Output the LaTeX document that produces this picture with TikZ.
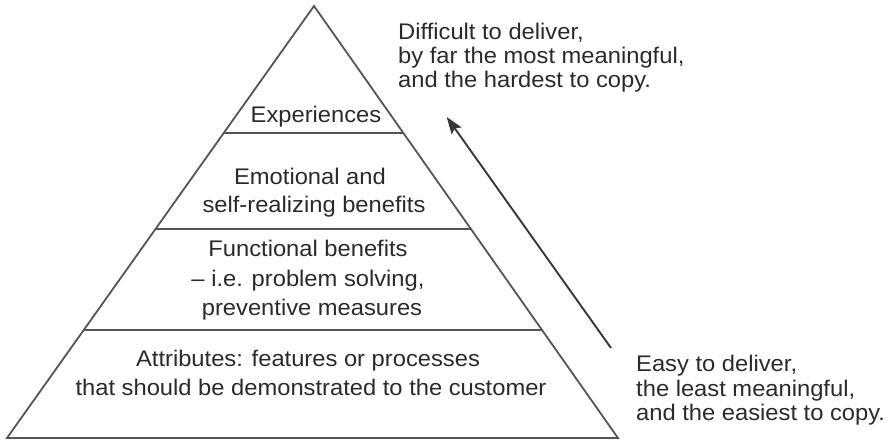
\documentclass[tikz,border=0pt]{standalone}
\usepackage{fontspec}
\setmainfont{Liberation Sans}[FakeStretch=1.05]
\usetikzlibrary{arrows.meta,calc}
\definecolor{txtgray}{HTML}{2A2A2A}
\definecolor{linegray}{HTML}{555555}
\definecolor{arrgray}{HTML}{383838}
\begin{document}
\begin{tikzpicture}[x=1pt,y=-1pt,
  lbl/.style={font=\fontsize{22.6}{26}\selectfont, text=txtgray, inner sep=0pt, anchor=base},
  lblL/.style={lbl, anchor=base west},
  side/.style={draw=linegray, line width=1.8pt, line join=miter},
  tier/.style={draw=linegray, line width=2.5pt},
  rise/.style={draw=arrgray, line width=1.9pt, -{Stealth[length=17pt,width=12pt,inset=3pt]}}]
\useasboundingbox (0,0) rectangle (893,443);
% pyramid corners
\coordinate (A) at (314,6);
\coordinate (BL) at (7,438);
\coordinate (BR) at (618,438);
\draw[side] (BL) -- (A) -- (BR) -- cycle;
% tier lines
\coordinate (L1) at ($(A)!0.294!(BL)$);
\coordinate (R1) at ($(A)!0.294!(BR)$);
\coordinate (L2) at ($(A)!0.516!(BL)$);
\coordinate (R2) at ($(A)!0.516!(BR)$);
\coordinate (L3) at ($(A)!0.75!(BL)$);
\coordinate (R3) at ($(A)!0.75!(BR)$);
\draw[tier] (L1) -- (R1);
\draw[tier] (L2) -- (R2);
\draw[tier] (L3) -- (R3);
% labels inside
\node[lbl] (exp) at (316,122.7) {Experiences};
\node[lbl] (emo1) at (310,185) {Emotional and};
\node[lbl] (emo2) at (314,212.7) {self-realizing benefits};
\node[lbl] (fun1) at (308,257) {Functional benefits};
\node[lbl] (fun2) at (308,286.7) {– i.e. problem solving,};
\node[lbl] (fun3) at (312,315) {preventive measures};
\node[lbl] (att1) at (308,366.7) {Attributes: features or processes};
\node[lbl] (att2) at (311,395.7) {that should be demonstrated to the customer};
% right texts
\node[lblL] (d1) at (398,39.3) {Difficult to deliver,};
\node[lblL] (d2) at (398,63.3) {by far the most meaningful,};
\node[lblL] (d3) at (398,87.3) {and the hardest to copy.};
\node[lblL] (e1) at (636,371.5) {Easy to deliver,};
\node[lblL] (e2) at (636,396) {the least meaningful,};
\node[lblL] (e3) at (636,420.5) {and the easiest to copy.};
% arrow
\coordinate (low) at (611,348);
\coordinate (high) at (446.7,117);
\draw[rise] (low) -- (high);
\end{tikzpicture}
\end{document}
